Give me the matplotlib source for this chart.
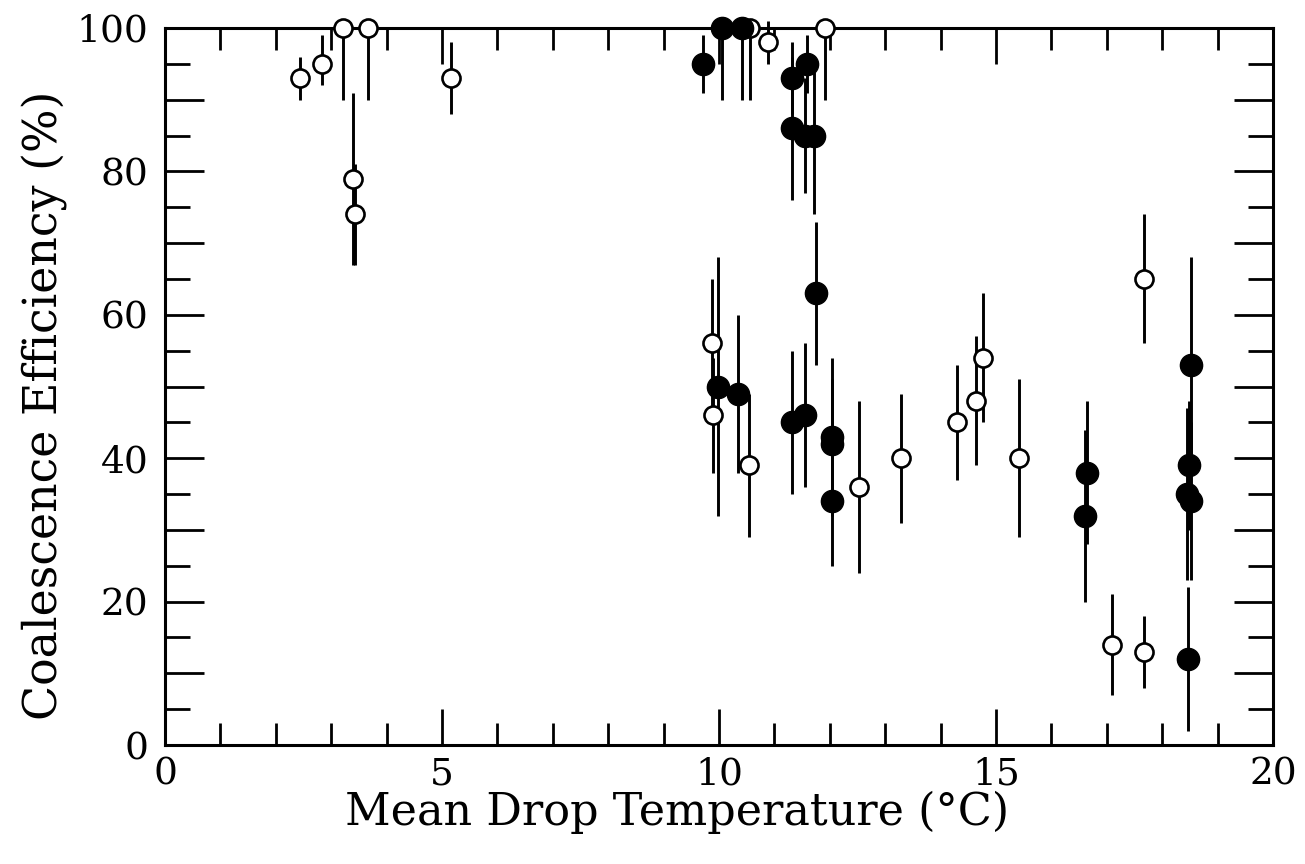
import matplotlib
matplotlib.use("Agg")
import matplotlib.pyplot as plt
from matplotlib.ticker import MultipleLocator, FuncFormatter

# Open symbols: temperature (°C), efficiency (%), lower / upper error
open_temp = [2.44, 2.83, 3.21, 3.66, 3.39, 3.43, 5.16, 10.56, 10.88, 11.91,
             9.88, 9.90, 10.54, 12.53, 13.29, 14.30, 14.64, 14.77, 15.42,
             17.09, 17.67, 17.67]
open_eff = [93, 95, 100, 100, 79, 74, 93, 100, 98, 100,
            56, 46, 39, 36, 40, 45, 48, 54, 40,
            14, 13, 65]
open_err_lo = [3, 3, 10, 10, 12, 7, 5, 10, 3, 10,
               9, 8, 10, 12, 9, 8, 9, 9, 11,
               7, 5, 9]
open_err_hi = [3, 4, 0, 0, 12, 7, 5, 0, 3, 0,
               9, 8, 10, 12, 9, 8, 9, 9, 11,
               7, 5, 9]

# Filled symbols
filled_temp = [9.71, 10.05, 10.41, 11.32, 11.32, 11.59, 11.55, 11.72, 11.75,
               9.98, 10.35, 11.32, 11.55, 12.04, 12.04, 12.04,
               16.64, 16.60, 18.52, 18.49, 18.45, 18.52, 18.47]
filled_eff = [95, 100, 100, 93, 86, 95, 85, 85, 63,
              50, 49, 45, 46, 43, 42, 34,
              38, 32, 53, 39, 35, 34, 12]
filled_err_lo = [4, 10, 10, 5, 10, 4, 8, 11, 10,
                 18, 11, 10, 10, 11, 9, 9,
                 10, 12, 15, 9, 12, 11, 10]
filled_err_hi = [4, 0, 0, 5, 10, 4, 8, 10, 10,
                 18, 11, 10, 10, 11, 9, 10,
                 10, 12, 15, 9, 12, 11, 10]

x_ticks = [0, 5, 10, 15, 20]
y_ticks = [0, 20, 40, 60, 80, 100]

plt.rcParams["font.family"] = ["DejaVu Serif"]

fig = plt.figure(figsize=(13.05, 8.64), dpi=100)
ax = fig.add_axes([0.1264, 0.1377, 0.8491, 0.8299])

ax.errorbar(open_temp, open_eff, yerr=[open_err_lo, open_err_hi],
            fmt="none", ecolor="black", elinewidth=2.1, capsize=0,
            clip_on=False, zorder=3)
ax.errorbar(filled_temp, filled_eff, yerr=[filled_err_lo, filled_err_hi],
            fmt="none", ecolor="black", elinewidth=2.1, capsize=0,
            clip_on=False, zorder=3)
ax.plot(open_temp, open_eff, "o", ms=13, mfc="white", mec="black",
        mew=1.9, ls="none", clip_on=False, zorder=4)
ax.plot(filled_temp, filled_eff, "o", ms=16, mfc="black", mec="black",
        ls="none", clip_on=False, zorder=5)

ax.set_xlim(0, 20)
ax.set_ylim(0, 100)

ax.xaxis.set_major_locator(MultipleLocator(5))
ax.xaxis.set_minor_locator(MultipleLocator(1))
ax.yaxis.set_major_locator(MultipleLocator(10))
ax.yaxis.set_minor_locator(MultipleLocator(5))
ax.yaxis.set_major_formatter(
    FuncFormatter(lambda v, p: f"{int(round(v))}" if round(v) in y_ticks else ""))
ax.xaxis.set_major_formatter(
    FuncFormatter(lambda v, p: f"{int(round(v))}" if round(v) in x_ticks else ""))

ax.tick_params(which="both", direction="in", top=True, right=True,
               width=2.0, labelsize=27, colors="black")
ax.tick_params(axis="x", which="major", length=26, pad=8)
ax.tick_params(axis="x", which="minor", length=16)
ax.tick_params(axis="y", which="major", length=28, pad=12)
ax.tick_params(axis="y", which="minor", length=18)

for s in ax.spines.values():
    s.set_linewidth(2.2)

ax.set_xlabel("Mean Drop Temperature (°C)", fontsize=32, va="top", ha="center")
ax.xaxis.set_label_coords(0.462, -0.064)
ax.set_ylabel("Coalescence Efficiency (%)", fontsize=33, va="center", ha="center")
ax.yaxis.set_label_coords(-0.108, 0.474)

fig.savefig("out.png", dpi=100)
